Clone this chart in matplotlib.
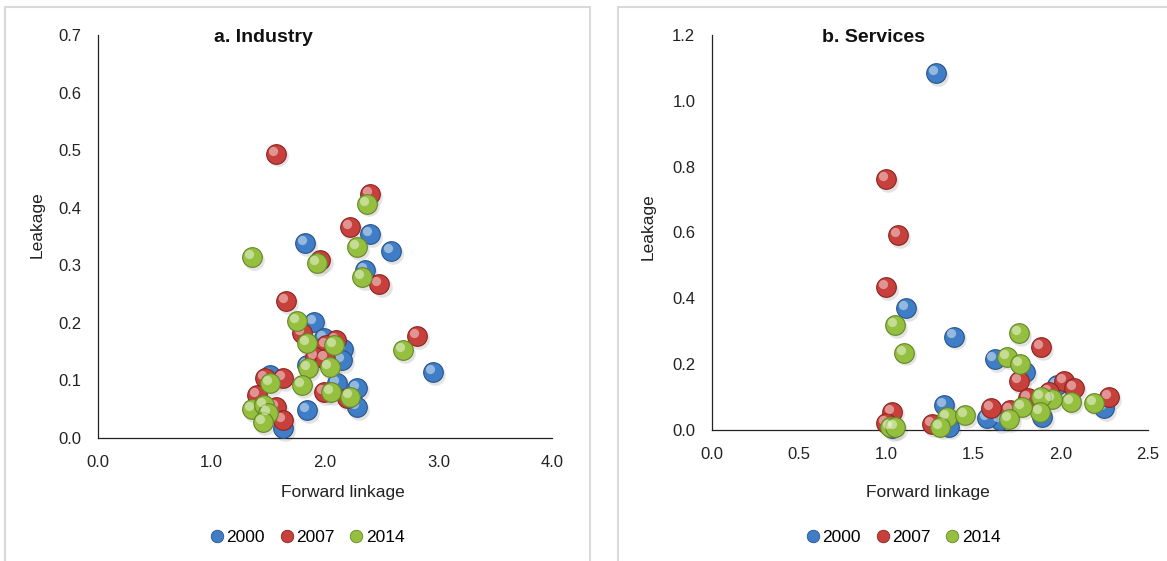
import matplotlib

matplotlib.use("Agg")
import matplotlib.pyplot as plt
import matplotlib.transforms as mtransforms
from matplotlib.lines import Line2D
from matplotlib.patches import Rectangle

plt.rcParams["font.family"] = ["Liberation Sans", "DejaVu Sans"]

years = ["2000", "2007", "2014"]
colors = {"2000": "#3f7ec6", "2007": "#c8403c", "2014": "#95c03f"}
edges = {"2000": "#28548a", "2007": "#8a2523", "2014": "#64862a"}

# a. Industry: (forward linkage, leakage)
ind_x = {
    "2000": [1.82, 2.40, 2.58, 2.35, 1.90, 2.95, 1.99, 2.16, 2.15, 1.84, 1.515,
             2.11, 2.28, 1.84, 2.28, 1.63],
    "2007": [1.57, 2.40, 2.22, 1.96, 2.48, 1.66, 1.80, 2.81, 2.10, 2.01, 1.91,
             2.00, 1.47, 1.63, 1.99, 2.19, 1.40, 1.57, 1.63],
    "2014": [2.37, 2.28, 1.357, 1.93, 2.33, 1.75, 2.69, 1.84, 2.08, 1.85, 2.04,
             1.515, 1.80, 2.05, 2.22, 1.36, 1.46, 1.50, 1.45],
}
ind_y = {
    "2000": [0.338, 0.354, 0.325, 0.292, 0.201, 0.114, 0.173, 0.154, 0.135,
             0.127, 0.109, 0.095, 0.086, 0.049, 0.054, 0.017],
    "2007": [0.494, 0.424, 0.366, 0.309, 0.267, 0.238, 0.182, 0.177, 0.170,
             0.161, 0.141, 0.138, 0.104, 0.104, 0.080, 0.069, 0.075, 0.054, 0.031],
    "2014": [0.407, 0.332, 0.314, 0.304, 0.279, 0.203, 0.153, 0.165, 0.161,
             0.121, 0.123, 0.095, 0.092, 0.080, 0.072, 0.050, 0.057, 0.043, 0.027],
}

# b. Services
srv_x = {
    "2000": [1.283, 1.112, 1.39, 1.33, 1.36, 1.62, 1.795, 2.25, 1.89, 1.65,
             1.575, 1.98, 1.03],
    "2007": [1.00, 1.065, 1.00, 1.03, 1.26, 1.885, 1.76, 2.02, 2.076, 2.276,
             1.93, 1.81, 1.71, 1.60, 1.00],
    "2014": [1.05, 1.10, 1.02, 1.05, 1.345, 1.31, 1.45, 1.76, 1.69, 1.766,
             2.19, 2.057, 1.95, 1.885, 1.88, 1.78, 1.705],
}
srv_y = {
    "2000": [1.084, 0.370, 0.284, 0.076, 0.010, 0.215, 0.177, 0.066, 0.040,
             0.030, 0.036, 0.137, 0.005],
    "2007": [0.763, 0.591, 0.434, 0.056, 0.018, 0.251, 0.149, 0.150, 0.127,
             0.101, 0.116, 0.096, 0.061, 0.066, 0.020],
    "2014": [0.319, 0.235, 0.010, 0.008, 0.039, 0.010, 0.046, 0.294, 0.223,
             0.200, 0.083, 0.086, 0.093, 0.101, 0.056, 0.071, 0.032],
}

ind_xticks = [0.0, 1.0, 2.0, 3.0, 4.0]
ind_yticks = [0.0, 0.1, 0.2, 0.3, 0.4, 0.5, 0.6, 0.7]
srv_xticks = [0.0, 0.5, 1.0, 1.5, 2.0, 2.5]
srv_yticks = [0.0, 0.2, 0.4, 0.6, 0.8, 1.0, 1.2]

fig = plt.figure(figsize=(11.67, 5.61), dpi=100)

# light grey frames around each panel
for x0, w in [(5 / 1167, 585 / 1167), (618 / 1167, 560 / 1167)]:
    fig.patches.append(Rectangle((x0, -0.05), w, 1.05 - 7 / 561,
                                 transform=fig.transFigure, fill=False,
                                 edgecolor="#d9d9d9", linewidth=1.5))


def draw_spheres(ax, xs, ys, size=200):
    shadow = mtransforms.offset_copy(ax.transData, fig=fig, x=1.5, y=-2, units="points")
    hl = mtransforms.offset_copy(ax.transData, fig=fig, x=-2.2, y=2.2, units="points")
    for yr in years:
        ax.scatter(xs[yr], ys[yr], s=size * 1.1, color="#b0b0b0", alpha=0.35,
                   linewidths=0, transform=shadow, clip_on=False, zorder=2)
    for i, yr in enumerate(years):
        z = 3 + i
        ax.scatter(xs[yr], ys[yr], s=size, color=colors[yr], edgecolors=edges[yr],
                   linewidths=0.8, clip_on=False, zorder=z)
        ax.scatter(xs[yr], ys[yr], s=size * 0.22, color="white", alpha=0.45,
                   linewidths=0, transform=hl, clip_on=False, zorder=z)


def style_axes(ax, xticks, yticks, title, title_x):
    ax.set_xlim(xticks[0], xticks[-1])
    ax.set_ylim(yticks[0], yticks[-1])
    ax.set_xticks(xticks)
    ax.set_yticks(yticks)
    ax.set_xticklabels([f"{t:.1f}" for t in xticks])
    ax.set_yticklabels([f"{t:.1f}" for t in yticks])
    ax.tick_params(length=0, labelsize=12, colors="#222222", pad=12)
    for side in ["top", "right"]:
        ax.spines[side].set_visible(False)
    for side in ["left", "bottom"]:
        ax.spines[side].set_color("#222222")
        ax.spines[side].set_linewidth(0.9)
    fig.text(title_x, 1 - 38 / 561, title, ha="center", va="center",
             fontsize=14, fontweight="bold", color="#111111")


ax1 = fig.add_axes([98 / 1167, 1 - 438 / 561, 454 / 1167, 403 / 561])
draw_spheres(ax1, ind_x, ind_y)
style_axes(ax1, ind_xticks, ind_yticks, "a. Industry", 263 / 1167)

ax2 = fig.add_axes([712 / 1167, 1 - 430 / 561, 436 / 1167, 395 / 561])
draw_spheres(ax2, srv_x, srv_y)
style_axes(ax2, srv_xticks, srv_yticks, "b. Services", 874 / 1167)

for lx, ly, cx in [(37, 225, 343), (648, 227, 928)]:
    fig.text(lx / 1167, 1 - ly / 561, "Leakage", rotation=90, ha="center",
             va="center", fontsize=12.5, color="#222222")
    fig.text(cx / 1167, 1 - 493 / 561, "Forward linkage", ha="center",
             va="center", fontsize=12.5, color="#222222")

handles = [Line2D([], [], linestyle="none", marker="o", markersize=9,
                  markerfacecolor=colors[yr], markeredgecolor=edges[yr],
                  markeredgewidth=0.6) for yr in years]
for cx in [306, 902]:
    fig.legend(handles, years, loc="center", ncol=3,
               bbox_to_anchor=(cx / 1167, 1 - 537 / 561), frameon=False,
               fontsize=12.5, handletextpad=0.0, columnspacing=0.7,
               handlelength=1.1)

fig.savefig("out.png", dpi=100)
